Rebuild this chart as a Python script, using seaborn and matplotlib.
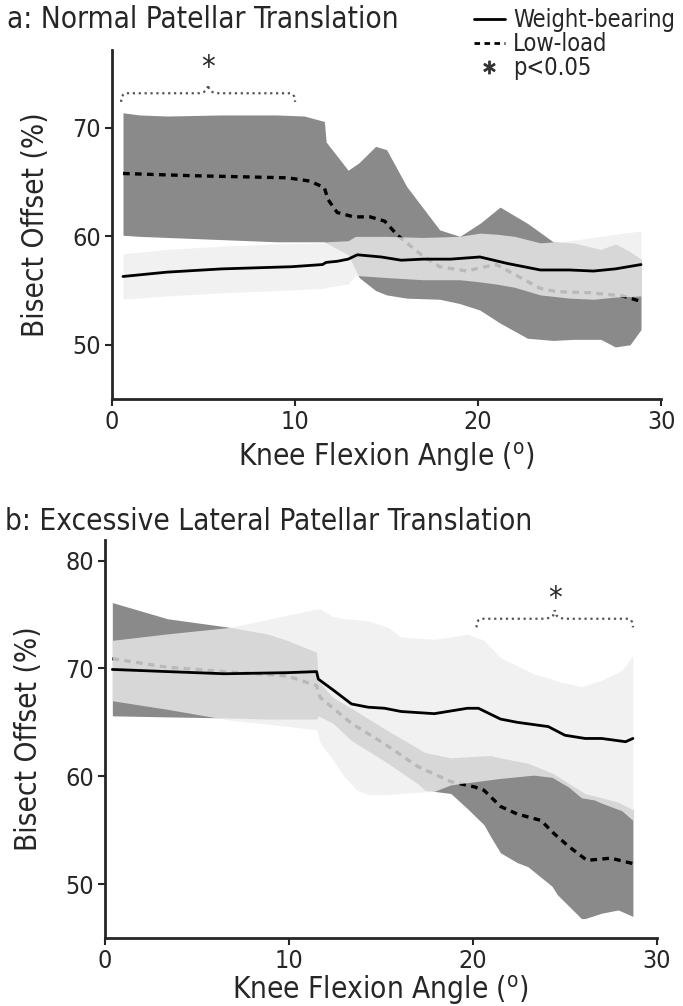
import seaborn as sns
import matplotlib
matplotlib.use("Agg")
import matplotlib.pyplot as plt
from matplotlib import font_manager
from matplotlib.lines import Line2D
from matplotlib.path import Path
from matplotlib.patches import PathPatch

# ---- panel a: normal patellar translation ----
a_wb_x = [0.6, 3, 6, 9.8, 11.5, 11.7, 12.3, 12.9, 13.4, 14.7, 15.8, 17, 18.5, 20.1, 21.6, 23.4, 25, 26.3, 27.5, 28.9]
a_wb_mean = [56.3, 56.7, 57.0, 57.2, 57.4, 57.6, 57.7, 57.9, 58.3, 58.1, 57.8, 57.9, 57.9, 58.1, 57.5, 56.9, 56.9, 56.8, 57.0, 57.4]

a_ll_x = [0.6, 4.3, 9.6, 10.8, 11.6, 11.8, 12.3, 13.2, 14.1, 14.9, 15.6, 16.9, 17.9, 19.4, 20.1, 21.0, 22.2, 23.4, 24.3, 26.1, 27.9, 28.9]
a_ll_mean = [65.8, 65.6, 65.4, 65.1, 64.5, 63.4, 62.2, 61.8, 61.8, 61.4, 60.1, 58.3, 57.2, 56.8, 57.1, 57.4, 56.3, 55.2, 54.9, 54.8, 54.5, 54.0]

a_wb_band_x = [0.6, 3, 6, 9, 11.6, 11.7, 12.9, 13.3, 15, 17, 19, 20.1, 21, 22, 23.4, 25, 26.3, 27.5, 28.9]
a_wb_upper = [58.4, 58.8, 59.1, 59.3, 59.4, 59.5, 59.6, 60.0, 60.0, 59.9, 60.0, 60.3, 60.2, 60.0, 59.4, 59.6, 59.9, 60.2, 60.5]
a_wb_lower = [54.2, 54.5, 54.8, 55.0, 55.2, 55.3, 55.6, 56.4, 56.2, 56.0, 56.0, 55.8, 55.6, 55.3, 54.6, 54.3, 54.2, 54.4, 54.5]

a_ll_band_x = [0.6, 1.5, 3, 6, 9, 10.5, 11.6, 11.7, 12.9, 13.5, 14.4, 15.0, 16.1, 17.9, 19.0, 20.1, 21.2, 22.7, 24.1, 25.2, 26.7, 27.5, 28.3, 28.9]
a_ll_upper = [71.4, 71.2, 71.1, 71.2, 71.2, 71.1, 70.6, 68.7, 66.1, 66.8, 68.3, 68.0, 64.6, 60.6, 60.0, 61.2, 62.7, 61.2, 59.5, 59.4, 58.8, 59.3, 58.6, 57.9]
a_ll_lower = [60.1, 60.0, 59.9, 59.7, 59.5, 59.5, 59.5, 59.4, 58.3, 56.2, 55.0, 54.6, 54.3, 54.2, 53.8, 53.2, 52.0, 50.6, 50.4, 50.5, 50.5, 49.8, 50.0, 51.4]

# ---- panel b: excessive lateral patellar translation ----
b_wb_x = [0.4, 3.4, 6.5, 9.9, 11.5, 11.6, 12.4, 13.4, 14.3, 15.2, 16.1, 17.9, 19.7, 20.3, 21.5, 22.4, 24.1, 25.0, 26.1, 27.0, 28.3, 28.7]
b_wb_mean = [69.9, 69.7, 69.5, 69.6, 69.7, 69.0, 68.0, 66.7, 66.4, 66.3, 66.0, 65.8, 66.3, 66.3, 65.3, 65.0, 64.6, 63.8, 63.5, 63.5, 63.2, 63.5]

b_ll_x = [0.4, 3.4, 6.5, 9.9, 11.5, 11.7, 13.4, 15.2, 17.0, 18.8, 20.1, 20.6, 21.5, 22.4, 23.7, 24.4, 25.2, 26.2, 27.5, 28.7]
b_ll_mean = [70.9, 70.1, 69.7, 69.3, 68.4, 67.3, 64.9, 63.0, 60.9, 59.5, 59.0, 58.7, 57.2, 56.5, 55.9, 54.7, 53.5, 52.2, 52.4, 51.9]

b_wb_band_x = [0.4, 3.4, 6.8, 9, 11.5, 11.7, 12.4, 13.0, 13.7, 14.3, 15.4, 16.1, 17.9, 18.8, 19.7, 20.6, 21.5, 23.3, 24.3, 24.8, 25.2, 25.9, 26.6, 27.0, 28.1, 28.7]
b_wb_upper = [72.6, 73.2, 73.8, 74.6, 75.5, 75.5, 74.8, 74.6, 74.5, 74.4, 73.8, 72.9, 72.7, 72.9, 73.2, 72.6, 71.0, 69.5, 69.0, 68.7, 68.6, 68.3, 68.7, 68.9, 69.8, 71.2]
b_wb_lower = [67.0, 66.2, 65.2, 64.8, 64.3, 63.1, 61.5, 60.0, 58.7, 58.3, 58.3, 58.4, 58.6, 59.2, 59.4, 59.6, 59.8, 60.1, 59.9, 59.4, 59.0, 58.0, 57.8, 57.5, 56.8, 55.9]

b_ll_band_x = [0.4, 3.4, 6.8, 8.8, 9.9, 11.5, 11.6, 12.4, 13.4, 15.2, 17.0, 17.4, 18.8, 19.7, 20.6, 21.0, 21.5, 22.4, 23.0, 24.3, 24.6, 25.9, 26.1, 27.0, 27.9, 28.7]
b_ll_upper = [76.1, 74.6, 73.8, 73.2, 72.6, 71.5, 68.8, 67.3, 66.3, 64.4, 62.6, 62.2, 61.7, 61.8, 61.9, 61.9, 61.7, 61.4, 61.2, 60.3, 60.0, 58.6, 58.4, 58.0, 57.6, 56.9]
b_ll_lower = [65.6, 65.5, 65.4, 65.3, 65.3, 65.3, 65.6, 64.9, 63.3, 61.4, 59.3, 58.7, 58.4, 57.0, 55.5, 54.3, 52.9, 52.0, 51.6, 49.8, 49.0, 46.8, 46.8, 47.3, 47.6, 47.0]

# significant ranges (p<0.05)
a_sig = (0.5, 10.0)
b_sig = (20.2, 28.7)

titles = ["a: Normal Patellar Translation", "b: Excessive Lateral Patellar Translation"]
legend_labels = ["Weight-bearing", "Low-load", "p<0.05"]
xlabel = "Knee Flexion Angle ($^{\\mathregular{o}}$)"
ylabel = "Bisect Offset (%)"

sns.set_style("ticks")

# look for a condensed face, the original uses a narrow sans
cond = None
for f in font_manager.fontManager.ttflist:
    st = f.stretch
    narrow_face = (isinstance(st, str) and "condensed" in st) or (not isinstance(st, str) and st <= 600)
    if narrow_face and f.style == "normal" and f.weight in (400, "normal", "regular", "book"):
        cond = f
        break
if cond is not None:
    plt.rcParams["font.family"] = [cond.name, "DejaVu Sans"]
    plt.rcParams["font.stretch"] = cond.stretch
    SCALE = 1.0
else:
    plt.rcParams["font.family"] = ["Liberation Sans", "DejaVu Sans"]
    SCALE = 0.86
plt.rcParams["axes.linewidth"] = 2.0
plt.rcParams["mathtext.default"] = "regular"

LL_COL = "#8a8a8a"
WB_COL = "#eeeeee"
WB_ALPHA = 0.78
FS = 18 * SCALE
FL = 21.3 * SCALE


def brace(ax, x0, x1, yb, h, star_gap):
    xm = (x0 + x1) / 2
    dx, dx2 = 0.3, 0.6
    verts = [(x0, yb), (x0, yb + h), (x0 + dx, yb + h), (xm - dx2, yb + h),
             (xm, yb + h), (xm, yb + 2 * h), (xm, yb + h), (xm + dx2, yb + h),
             (x1 - dx, yb + h), (x1, yb + h), (x1, yb)]
    codes = [Path.MOVETO, Path.CURVE3, Path.CURVE3, Path.LINETO,
             Path.CURVE3, Path.CURVE3, Path.CURVE3, Path.CURVE3,
             Path.LINETO, Path.CURVE3, Path.CURVE3]
    ax.add_patch(PathPatch(Path(verts, codes), fill=False, ls=":", lw=1.6,
                           color="#555555", clip_on=False))
    ax.text(xm, yb + 2 * h + star_gap, "*", ha="center", va="bottom", fontsize=22,
            clip_on=False)


def panel(ax, wb_band, ll_band, wb_line, ll_line, ylim, yticks, sig, sig_y, star_gap, xpad):
    ax.fill_between(ll_band[0], ll_band[2], ll_band[1], color=LL_COL, lw=0, zorder=1)
    sns.lineplot(x=ll_line[0], y=ll_line[1], ax=ax, color="black", lw=2.4,
                 linestyle=(0, (2.0, 1.6)), zorder=2)
    ax.fill_between(wb_band[0], wb_band[2], wb_band[1], color=WB_COL,
                    alpha=WB_ALPHA, lw=0, zorder=3)
    sns.lineplot(x=wb_line[0], y=wb_line[1], ax=ax, color="black", lw=2.0, zorder=4)
    ax.set_xlim(0, 30)
    ax.set_ylim(*ylim)
    ax.set_xticks([0, 10, 20, 30])
    ax.set_yticks(yticks)
    ax.tick_params(labelsize=FS, width=1.5, length=5, pad=3)
    ax.set_xlabel(xlabel, fontsize=FL, labelpad=xpad)
    ax.set_ylabel(ylabel, fontsize=FL, labelpad=16)
    sns.despine(ax=ax)
    brace(ax, sig[0], sig[1], sig_y, 0.8, star_gap)


fig = plt.figure(figsize=(6.83, 10.06), dpi=100)
ax_a = fig.add_axes([0.164, 0.6034, 0.804, 0.347])
ax_b = fig.add_axes([0.1537, 0.0676, 0.808, 0.3956])

panel(ax_a, (a_wb_band_x, a_wb_upper, a_wb_lower), (a_ll_band_x, a_ll_upper, a_ll_lower),
      (a_wb_x, a_wb_mean), (a_ll_x, a_ll_mean), (45, 77.2), [50, 60, 70], a_sig, 72.4, 0.2, 4)
panel(ax_b, (b_wb_band_x, b_wb_upper, b_wb_lower), (b_ll_band_x, b_ll_upper, b_ll_lower),
      (b_wb_x, b_wb_mean), (b_ll_x, b_ll_mean), (45, 81.9), [50, 60, 70, 80], b_sig, 73.8, -0.3, 0)

fig.text(0.01, 1 - 19 / 1006, titles[0], fontsize=FL, va="center", ha="left")
fig.text(0.008, 1 - 521 / 1006, titles[1], fontsize=FL, va="center", ha="left")

handles = [Line2D([], [], color="black", lw=2.0),
           Line2D([], [], color="black", lw=2.0, linestyle=(0, (2.0, 1.6))),
           Line2D([], [], color="#333333", ls="none", marker="$*$", markersize=9)]
fig.legend(handles, legend_labels, loc="upper right", bbox_to_anchor=(1.0, 1.0),
           frameon=False, fontsize=17 * SCALE, handlelength=1.3, handletextpad=0.35,
           labelspacing=0.0, borderaxespad=0.1, borderpad=0.25)

fig.savefig("out.png", dpi=100)
